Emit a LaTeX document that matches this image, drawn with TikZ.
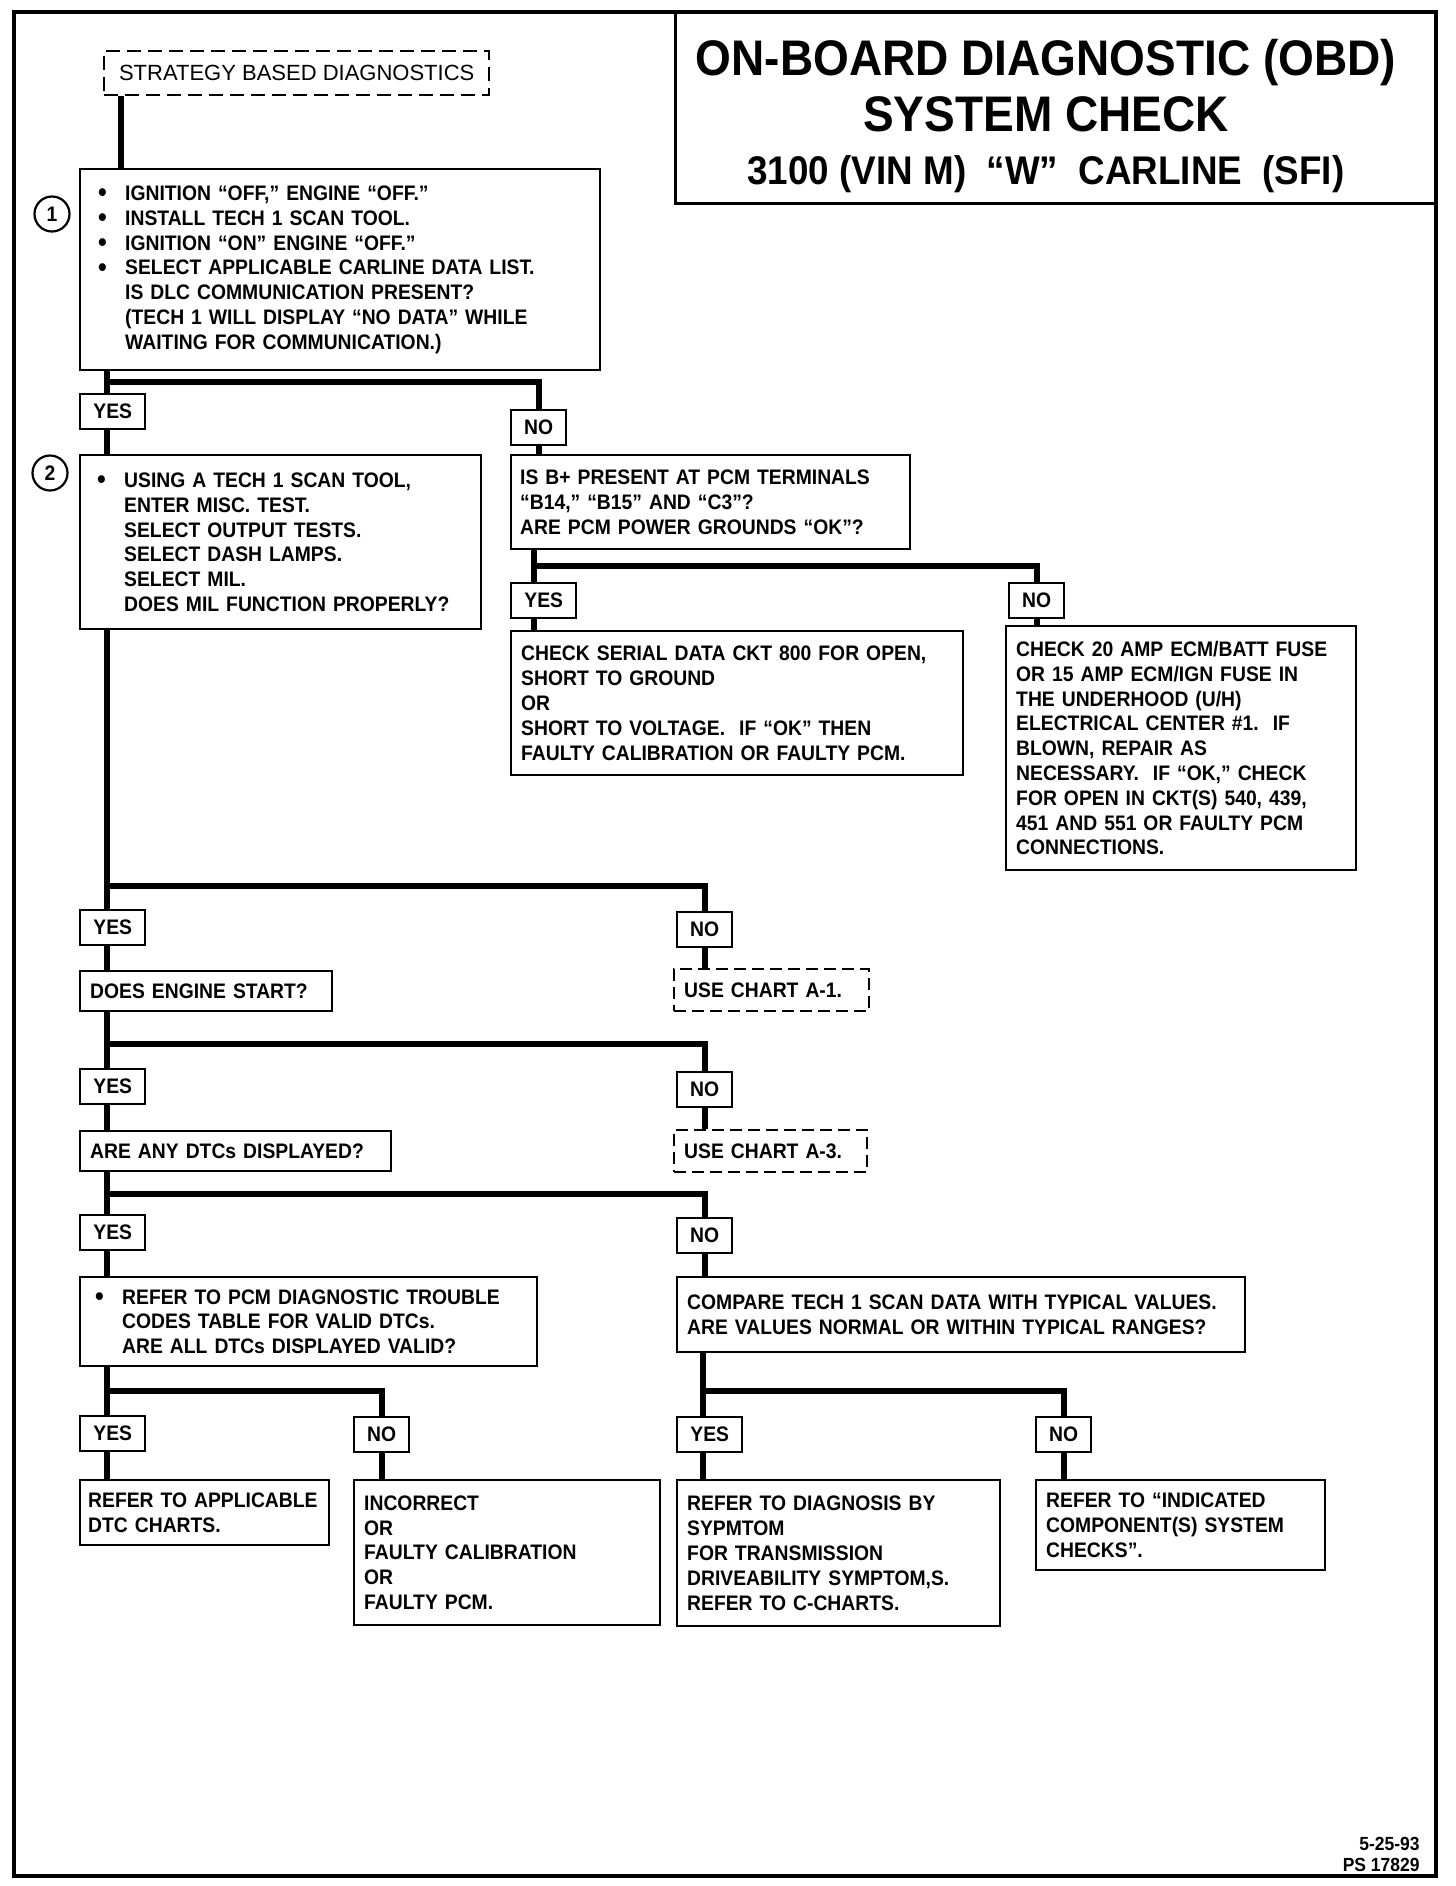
\documentclass[tikz,border=0pt]{standalone}
\usepackage{fontspec}
\setmainfont{Liberation Sans}[FakeStretch=0.92]
\newfontfamily\stratfont{Liberation Sans}
\newcommand{\txtfont}{\bfseries\fontsize{10.5}{12.4}\selectfont}
\newcommand{\bulpt}{\makebox[13.5pt][l]{\raisebox{-0.6pt}{\fontsize{13.5}{12.4}\selectfont\textbullet}}}
\newcommand{\bulsk}{\hspace*{13.5pt}}
\tikzset{
  box/.style={draw, line width=1.2pt, anchor=north west, align=left,
    inner xsep=5pt, inner ysep=0pt, font=\txtfont},
  dashbox/.style={box, dash pattern=on 6pt off 3pt},
  yn/.style={draw, line width=1.2pt, anchor=north west, font=\txtfont,
    minimum height=17.5pt, inner sep=0pt},
  link/.style={line width=3.2pt},
  num/.style={draw, circle, line width=1.1pt, minimum size=17.5pt,
    inner sep=0pt, font=\txtfont},
  headtxt/.style={font=\bfseries\fontsize{#1}{#1}\selectfont, inner sep=0pt},
}
\begin{document}
\begin{tikzpicture}[x=0.5pt, y=-0.5pt]
  \useasboundingbox (0,0) rectangle (1456,1886);
  \draw[line width=1.8pt] (14,12) rectangle (1436,1876);
  % title block
  \draw[line width=1.5pt] (675,12) |- (1436,203);
  \node[headtxt=25] (head1) at (1046,63) {ON-BOARD DIAGNOSTIC (OBD)};
  \node[headtxt=25] (head2) at (1046,114) {SYSTEM CHECK};
  \node[headtxt=20] (head3) at (1046,174) {3100 (VIN M)\ \ “W”\ \ CARLINE\ \ (SFI)};

  % steps
  \node[dashbox, dash pattern=on 7pt off 3.5pt, minimum width=192.5pt, minimum height=22pt,
    align=center, font=\stratfont\fontsize{11}{13}\selectfont] (strat) at (103,50)
    {STRATEGY BASED DIAGNOSTICS};
  \node[num] (n1) at (52,214) {1};
  \node[box, inner xsep=9pt, minimum width=260pt, minimum height=100.5pt, text width=242pt] (box1) at (79,168) {%
    \bulpt IGNITION “OFF,” ENGINE “OFF.”\\
    \bulpt INSTALL TECH 1 SCAN TOOL.\\
    \bulpt IGNITION “ON” ENGINE “OFF.”\\
    \bulpt SELECT APPLICABLE CARLINE DATA LIST.\\
    \bulsk IS DLC COMMUNICATION PRESENT?\\
    \bulsk (TECH 1 WILL DISPLAY “NO DATA” WHILE\\
    \bulsk WAITING FOR COMMUNICATION.)};
  \node[num] (n2) at (50,473) {2};
  \node[box, inner xsep=8.5pt, minimum width=200.5pt, minimum height=87pt, text width=183.5pt] (box2) at (79,454) {%
    \bulpt USING A TECH 1 SCAN TOOL,\\
    \bulsk ENTER MISC. TEST.\\
    \bulsk SELECT OUTPUT TESTS.\\
    \bulsk SELECT DASH LAMPS.\\
    \bulsk SELECT MIL.\\
    \bulsk DOES MIL FUNCTION PROPERLY?};
  \node[box, inner xsep=4.5pt, minimum width=199.5pt, minimum height=47pt, text width=190.5pt] (bplus) at (510,454) {%
    IS B+ PRESENT AT PCM TERMINALS\\
    “B14,” “B15” AND “C3”?\\
    ARE PCM POWER GROUNDS “OK”?};
  \node[box, minimum width=226pt, minimum height=72pt, text width=216pt] (serial) at (510,630) {%
    CHECK SERIAL DATA CKT 800 FOR OPEN,\\
    SHORT TO GROUND\\
    OR\\
    SHORT TO VOLTAGE.\ \ IF “OK” THEN\\
    FAULTY CALIBRATION OR FAULTY PCM.};
  \node[box, minimum width=175pt, minimum height=122pt, text width=165pt] (check) at (1005,625) {%
    CHECK 20 AMP ECM/BATT FUSE\\
    OR 15 AMP ECM/IGN FUSE IN\\
    THE UNDERHOOD (U/H)\\
    ELECTRICAL CENTER \#1.\ \ IF\\
    BLOWN, REPAIR AS\\
    NECESSARY.\ \ IF “OK,” CHECK\\
    FOR OPEN IN CKT(S) 540, 439,\\
    451 AND 551 OR FAULTY PCM\\
    CONNECTIONS.};
  \node[box, minimum width=126pt, minimum height=20pt, text width=116pt] (start) at (79,970) {DOES ENGINE START?};
  \node[dashbox, minimum width=97.5pt, minimum height=21pt, text width=87.5pt] (chartA) at (673,968) {USE CHART A-1.};
  \node[box, minimum width=155.5pt, minimum height=20pt, text width=145.5pt] (dtc) at (79,1130) {ARE ANY DTCs DISPLAYED?};
  \node[dashbox, minimum width=96.5pt, minimum height=21pt, text width=86.5pt] (chartB) at (673,1129) {USE CHART A-3.};
  \node[box, inner xsep=7.5pt, minimum width=228.5pt, minimum height=44.5pt, text width=213.5pt] (refer) at (79,1276) {%
    \bulpt REFER TO PCM DIAGNOSTIC TROUBLE\\
    \bulsk CODES TABLE FOR VALID DTCs.\\
    \bulsk ARE ALL DTCs DISPLAYED VALID?};
  \node[box, minimum width=284pt, minimum height=37.5pt, text width=274pt] (compare) at (676,1276) {%
    COMPARE TECH 1 SCAN DATA WITH TYPICAL VALUES.\\
    ARE VALUES NORMAL OR WITHIN TYPICAL RANGES?};
  \node[box, inner xsep=4pt, minimum width=124.5pt, minimum height=32.5pt, text width=116.5pt] (appl) at (79,1479) {%
    REFER TO APPLICABLE\\
    DTC CHARTS.};
  \node[box, minimum width=153pt, minimum height=72.5pt, text width=143pt] (incorr) at (353,1479) {%
    INCORRECT\\
    OR\\
    FAULTY CALIBRATION\\
    OR\\
    FAULTY PCM.};
  \node[box, minimum width=161.5pt, minimum height=73pt, text width=151.5pt] (diag) at (676,1479) {%
    REFER TO DIAGNOSIS BY\\
    SYPMTOM\\
    FOR TRANSMISSION\\
    DRIVEABILITY SYMPTOM,S.\\
    REFER TO C-CHARTS.};
  \node[box, minimum width=144.5pt, minimum height=45pt, text width=134.5pt] (indic) at (1035,1479) {%
    REFER TO “INDICATED\\
    COMPONENT(S) SYSTEM\\
    CHECKS”.};

  % answers
  \foreach \n/\x/\y in {yes1/79/393, yes2/510/582, yes3/79/909, yes4/79/1068,
                        yes5/79/1214, yes6/79/1415, yes7/676/1416}
    \node[yn, minimum width=32.5pt] (\n) at (\x,\y) {YES};
  \foreach \n/\x/\y in {no1/510/409, no2/1008/582, no3/676/911, no4/676/1071,
                        no5/676/1217, no6/353/1416, no7/1035/1416}
    \node[yn, minimum width=27.5pt] (\n) at (\x,\y) {NO};

  % connectors
  \coordinate (s0) at (121,0);
  \coordinate (b1) at (107,382);
  \coordinate (b2) at (534,566);
  \coordinate (b3) at (107,886);
  \coordinate (b4) at (107,1044);
  \coordinate (b5) at (107,1194);
  \coordinate (b6) at (107,1391);
  \coordinate (b7) at (703,1391);
  \draw[link] (strat.south -| s0) -- (box1.north -| s0);
  \draw[link] (box1.south -| b1) -- (yes1.north -| b1);
  \draw[link] (b1) -| (no1.north);
  \draw[link] (yes1.south -| b1) -- (box2.north -| b1);
  \draw[link] (no1.south) -- (bplus.north -| no1.south);
  \draw[link] (bplus.south -| b2) -- (yes2.north -| b2);
  \draw[link] (b2) -| (no2.north);
  \draw[link] (yes2.south -| b2) -- (serial.north -| b2);
  \draw[link] (no2.south) -- (check.north -| no2.south);
  \draw[link] (box2.south -| b3) -- (yes3.north -| b3);
  \draw[link] (b3) -| (no3.north);
  \draw[link] (yes3.south -| b3) -- (start.north -| b3);
  \draw[link] (no3.south) -- (chartA.north -| no3.south);
  \draw[link] (start.south -| b4) -- (yes4.north -| b4);
  \draw[link] (b4) -| (no4.north);
  \draw[link] (yes4.south -| b4) -- (dtc.north -| b4);
  \draw[link] (no4.south) -- (chartB.north -| no4.south);
  \draw[link] (dtc.south -| b5) -- (yes5.north -| b5);
  \draw[link] (b5) -| (no5.north);
  \draw[link] (yes5.south -| b5) -- (refer.north -| b5);
  \draw[link] (no5.south) -- (compare.north -| no5.south);
  \draw[link] (refer.south -| b6) -- (yes6.north -| b6);
  \draw[link] (b6) -| (no6.north);
  \draw[link] (yes6.south -| b6) -- (appl.north -| b6);
  \draw[link] (no6.south) -- (incorr.north -| no6.south);
  \draw[link] (compare.south -| b7) -- (yes7.north -| b7);
  \draw[link] (b7) -| (no7.north);
  \draw[link] (yes7.south -| b7) -- (diag.north -| b7);
  \draw[link] (no7.south) -- (indic.north -| no7.south);

  \node[anchor=north east, align=right, inner sep=0pt,
    font=\bfseries\fontsize{9.5}{10.5}\selectfont] (stamp) at (1420,1837) {5-25-93\\PS 17829};
\end{tikzpicture}
\end{document}
